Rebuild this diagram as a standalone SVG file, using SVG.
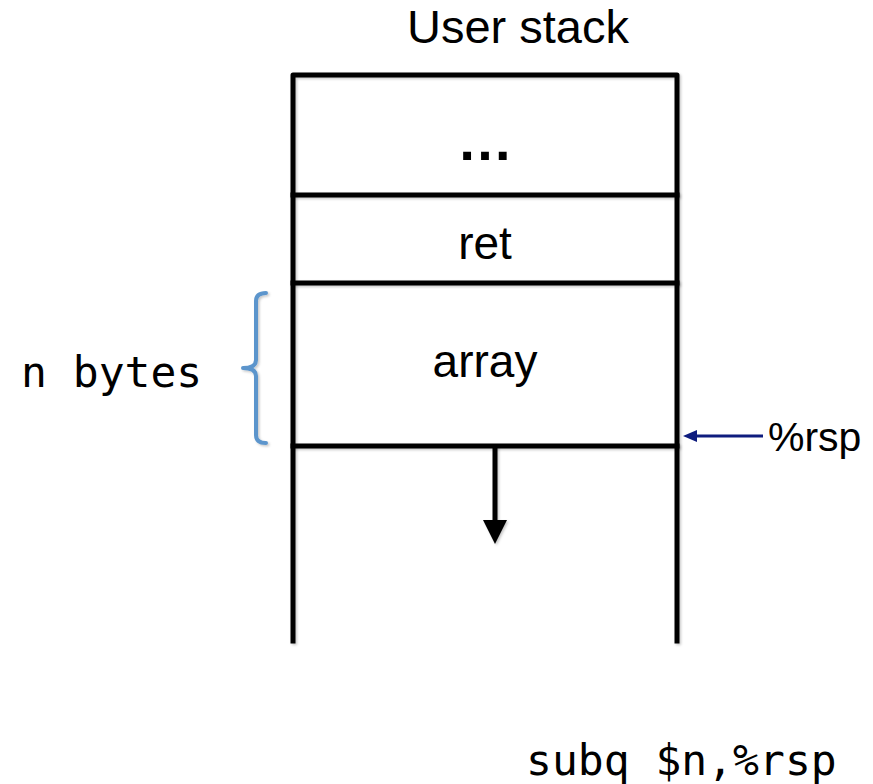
<svg xmlns="http://www.w3.org/2000/svg" width="873" height="784" viewBox="0 0 873 784">
  <style>
    .frame { fill: none; stroke: #000; stroke-width: 5; stroke-linecap: square; stroke-linejoin: round; }
    .sans { font-family: "Liberation Sans", Arial, sans-serif; fill: #000; }
    .mono { font-family: "DejaVu Sans Mono", "Liberation Mono", monospace; fill: #000; }
    .brace { fill: none; stroke: #5b95cc; stroke-width: 4; stroke-linecap: round; stroke-linejoin: round; }
  </style>
  <defs>
    <filter id="soft" filterUnits="userSpaceOnUse" x="0" y="0" width="873" height="784">
      <feDropShadow dx="1.5" dy="1.5" stdDeviation="1" flood-color="#000" flood-opacity="0.22"/>
    </filter>
  </defs>

  <rect width="873" height="784" fill="#fff"/>

  <!-- title -->
  <text class="sans" x="518" y="43" font-size="47" text-anchor="middle">User stack</text>

  <!-- stack frame: top edge and both walls -->
  <g id="stack-frame" filter="url(#soft)">
    <path class="frame" d="M293,641 L293,75 L677,75 L677,641"/>
  </g>

  <!-- slots -->
  <g id="slot-more">
    <text class="sans" x="485" y="160" font-size="56" font-weight="bold" text-anchor="middle">…</text>
  </g>
  <g id="slot-ret">
    <line class="frame" filter="url(#soft)" x1="293" y1="195" x2="677" y2="195"/>
    <text class="sans" x="485" y="259" font-size="46" text-anchor="middle">ret</text>
  </g>
  <g id="slot-array">
    <line class="frame" filter="url(#soft)" x1="293" y1="283" x2="677" y2="283"/>
    <text class="sans" x="485" y="377" font-size="46" text-anchor="middle">array</text>
  </g>
  <g id="stack-top">
    <line class="frame" filter="url(#soft)" x1="293" y1="446" x2="677" y2="446"/>
  </g>

  <!-- size annotation -->
  <g id="n-bytes">
    <path class="brace" filter="url(#soft)" d="M266,293 Q256,293 256,301 L256,360 Q256,368 243,368 Q256,368 256,376 L256,435 Q256,443 266,443"/>
    <text class="mono" x="21" y="387" font-size="43">n bytes</text>
  </g>

  <!-- stack pointer label -->
  <g id="rsp">
    <text class="sans" x="768" y="451" font-size="41">%rsp</text>
  </g>

  <!-- instruction -->
  <g id="instruction">
    <text class="mono" x="526" y="775" font-size="43">subq $n,%rsp</text>
  </g>

  <!-- connectors -->
  <g id="connectors">
    <g filter="url(#soft)">
      <line x1="495" y1="446" x2="495" y2="522" stroke="#000" stroke-width="5"/>
      <polygon points="483,520 507,520 495,544" fill="#000"/>
    </g>
    <line x1="763" y1="436" x2="694" y2="436" stroke="#0e1c7e" stroke-width="3"/>
    <polygon points="683,436 697,430 697,442" fill="#0e1c7e"/>
  </g>
</svg>
